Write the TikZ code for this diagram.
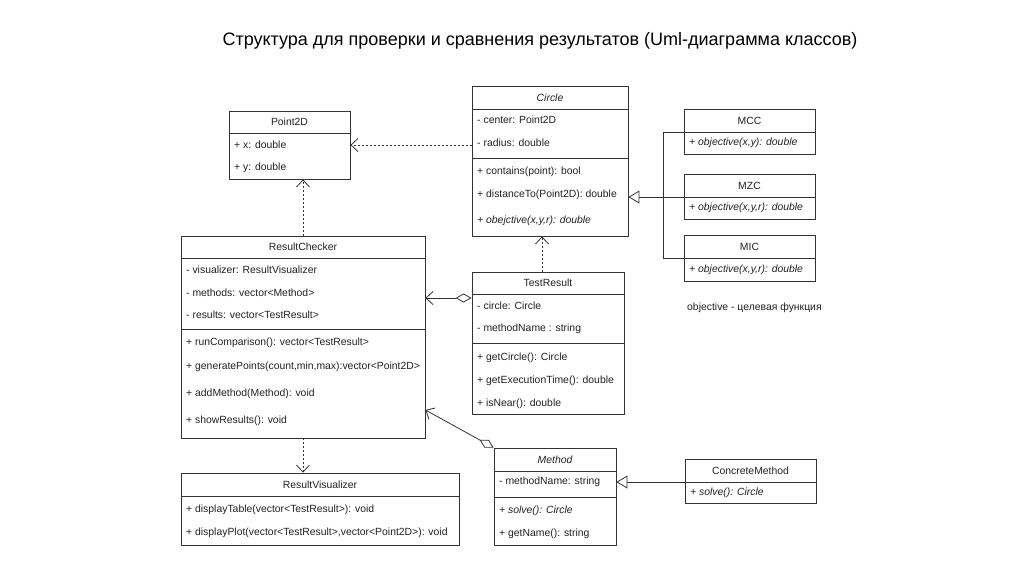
\documentclass[tikz,border=0pt]{standalone}
\usepackage{fontspec}
\setmainfont{Liberation Sans}
\usetikzlibrary{arrows.meta,fit}
\definecolor{ln}{HTML}{333333}
\definecolor{tx}{HTML}{222222}
\tikzset{
  box/.style={draw=ln, line width=0.8pt, inner sep=0pt, fill=none},
  sepl/.style={draw=ln, line width=0.8pt},
  item/.style={anchor=west, inner sep=0pt, text=tx, font=\fontsize{10.4}{12}\selectfont},
  hdr/.style={inner sep=0pt, text=tx, font=\fontsize{10.4}{12}\selectfont},
  dep/.style={draw=ln, line width=0.8pt, dash pattern=on 2pt off 2pt, -{Straight Barb[length=7pt,width=13pt,line width=0.8pt]}},
  assoc/.style={draw=ln, line width=0.8pt, {Diamond[open,length=16pt,width=9pt,line width=0.8pt]}-{Straight Barb[length=7pt,width=13pt,line width=0.8pt]}},
  gen/.style={draw=ln, line width=0.8pt, -{Triangle[open,length=11pt,width=13pt,line width=0.8pt]}},
  plain/.style={draw=ln, line width=0.8pt}
}
\begin{document}
\begin{tikzpicture}[x=1pt,y=-1pt]
\fill[white] (0,0) rectangle (1024,574);
\useasboundingbox (0,0) rectangle (1024,574);
% title
\node[inner sep=0pt, text=black, font=\fontsize{18}{21}\selectfont] (title) at (540,41) {Структура для проверки и сравнения результатов (Uml-диаграмма классов)};

% Point2D
\node[box, fit={(229,111) (350,179)}] (p2d) {};
\draw[sepl] (p2d.west |- 0,133) -- (p2d.east |- 0,133);
\node[hdr] (p2dh) at (289.5,122) {Point2D};
\node[item] (p2da) at (234,145) {+ x: double};
\node[item] (p2db) at (234,168) {+ y: double};

% Circle
\node[box, fit={(472,86) (628,236)}] (circ) {};
\draw[sepl] (circ.west |- 0,109) -- (circ.east |- 0,109);
\draw[sepl] (circ.west |- 0,158) -- (circ.east |- 0,158);
\node[hdr] (circh) at (550,97.5) {\itshape Circle};
\node[item] (circa) at (477,120) {- center: Point2D};
\node[item] (circb) at (477,143) {- radius: double};
\node[item] (circc) at (477,172) {+ contains(point): bool};
\node[item] (circd) at (477,195) {+ distanceTo(Point2D): double};
\node[item] (circe) at (477,221) {\itshape + obejctive(x,y,r): double};

% MCC
\node[box, fit={(684,109) (815,154)}] (mcc) {};
\draw[sepl] (mcc.west |- 0,132) -- (mcc.east |- 0,132);
\node[hdr] (mcch) at (749.5,120.5) {MCC};
\node[item] (mcca) at (689,143) {\itshape + objective(x,y): double};

% MZC
\node[box, fit={(684,174) (815,219)}] (mzc) {};
\draw[sepl] (mzc.west |- 0,197) -- (mzc.east |- 0,197);
\node[hdr] (mzch) at (749.5,185.5) {MZC};
\node[item] (mzca) at (689,208) {\itshape + objective(x,y,r): double};

% MIC
\node[box, fit={(684,235) (815,281)}] (mic) {};
\draw[sepl] (mic.west |- 0,258) -- (mic.east |- 0,258);
\node[hdr] (mich) at (749.5,246.5) {MIC};
\node[item] (mica) at (689,270) {\itshape + objective(x,y,r): double};

\node[item] (note) at (687,308) {objective - целевая функция};

% ResultChecker
\node[box, fit={(181,236) (425,438)}] (rc) {};
\draw[sepl] (rc.west |- 0,258) -- (rc.east |- 0,258);
\draw[sepl] (rc.west |- 0,329) -- (rc.east |- 0,329);
\node[hdr] (rch) at (303,247) {ResultChecker};
\node[item] (rca) at (186,270) {- visualizer: ResultVisualizer};
\node[item] (rcb) at (186,293) {- methods: vector<Method>};
\node[item] (rcc) at (186,315) {- results: vector<TestResult>};
\node[item] (rcd) at (186,343) {+ runComparison(): vector<TestResult>};
\node[item] (rce) at (186,367) {+ generatePoints(count,min,max):vector<Point2D>};
\node[item] (rcf) at (186,394) {+ addMethod(Method): void};
\node[item] (rcg) at (186,421) {+ showResults(): void};

% TestResult
\node[box, fit={(472,272) (624,414)}] (tr) {};
\draw[sepl] (tr.west |- 0,294) -- (tr.east |- 0,294);
\draw[sepl] (tr.west |- 0,343) -- (tr.east |- 0,343);
\node[hdr] (trh) at (548,283) {TestResult};
\node[item] (tra) at (477,306) {- circle: Circle};
\node[item] (trb) at (477,329) {- methodName : string};
\node[item] (trc) at (477,358) {+ getCircle(): Circle};
\node[item] (trd) at (477,381) {+ getExecutionTime(): double};
\node[item] (tre) at (477,404) {+ isNear(): double};

% ResultVisualizer
\node[box, fit={(181,473) (459,545)}] (rv) {};
\draw[sepl] (rv.west |- 0,496) -- (rv.east |- 0,496);
\node[hdr] (rvh) at (320,484.5) {ResultVisualizer};
\node[item] (rva) at (186,510) {+ displayTable(vector<TestResult>): void};
\node[item] (rvb) at (186,533) {+ displayPlot(vector<TestResult>,vector<Point2D>): void};

% Method
\node[box, fit={(494,448) (616,545)}] (meth) {};
\draw[sepl] (meth.west |- 0,471) -- (meth.east |- 0,471);
\draw[sepl] (meth.west |- 0,497) -- (meth.east |- 0,497);
\node[hdr] (methh) at (555,459.5) {\itshape Method};
\node[item] (metha) at (499,482) {- methodName: string};
\node[item] (methb) at (499,511) {\itshape + solve(): Circle};
\node[item] (methc) at (499,534) {+ getName(): string};

% ConcreteMethod
\node[box, fit={(685,459) (816,503)}] (cm) {};
\draw[sepl] (cm.west |- 0,482) -- (cm.east |- 0,482);
\node[hdr] (cmh) at (750.5,470.5) {ConcreteMethod};
\node[item] (cma) at (690,493) {\itshape + solve(): Circle};

% connectors
\draw[dep] (circ.west |- p2d.east) -- (p2d.east);
\draw[dep] (rc.north) -- (rc.north |- p2d.south);
\draw[dep] (rc.south) -- (rc.south |- rv.north);
\coordinate (trtop) at (tr.north -| 542,0);
\draw[dep] (trtop) -- (trtop |- circ.south);
\coordinate (trl) at (tr.west |- 0,298);
\draw[assoc] (trl) -- (trl -| rc.east);
\coordinate (rcm) at (rc.east |- 0,410);
\draw[assoc] (meth.north west) -- (rcm);
% generalization of MCC/MZC/MIC
\coordinate (gx1) at (663,132);
\coordinate (gx2) at (663,258);
\draw[plain] (mcc.west |- gx1) -- (gx1) -- (gx2) -- (mic.west |- gx2);
\draw[gen] (mzc.west |- 0,197) -- (circ.east |- 0,197);
\draw[gen] (cm.west |- 0,482) -- (meth.east |- 0,482);
\end{tikzpicture}
\end{document}
